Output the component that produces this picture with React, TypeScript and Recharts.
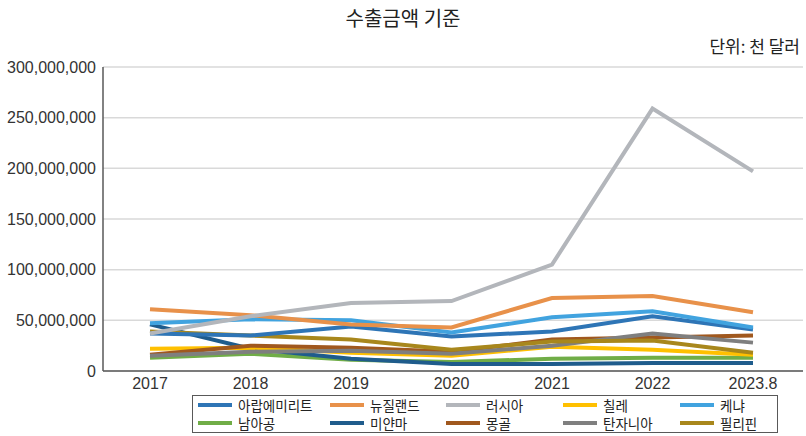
import React from 'react';
import { LineChart, Line, XAxis, YAxis, CartesianGrid } from 'recharts';

const years = ['2017', '2018', '2019', '2020', '2021', '2022', '2023.8'];

const uae = [37000000, 35000000, 44000000, 34000000, 39000000, 54000000, 41000000];
const newZealand = [61000000, 55000000, 46000000, 43000000, 72000000, 74000000, 58000000];
const russia = [37000000, 54000000, 67000000, 69000000, 105000000, 259000000, 197000000];
const chile = [22000000, 23000000, 18000000, 15000000, 24000000, 21000000, 16000000];
const kenya = [47000000, 51000000, 50000000, 38000000, 53000000, 59000000, 43000000];
const southAfrica = [13000000, 17000000, 11000000, 9000000, 12000000, 13000000, 13000000];
const myanmar = [46000000, 22000000, 12000000, 7000000, 7000000, 8000000, 8000000];
const mongolia = [16000000, 25000000, 23000000, 19000000, 31000000, 33000000, 35000000];
const tanzania = [15000000, 19000000, 20000000, 17000000, 25000000, 37000000, 28000000];
const philippines = [39000000, 35000000, 31000000, 21000000, 29000000, 30000000, 18000000];

const yTicks = [0, 50000000, 100000000, 150000000, 200000000, 250000000, 300000000];

const series = [
  { key: 'uae', name: '아랍에미리트', color: '#2E75B6', values: uae },
  { key: 'nz', name: '뉴질랜드', color: '#E8914A', values: newZealand },
  { key: 'ru', name: '러시아', color: '#B3B6BB', values: russia },
  { key: 'cl', name: '칠레', color: '#FFC000', values: chile },
  { key: 'ke', name: '케냐', color: '#41A3DF', values: kenya },
  { key: 'za', name: '남아공', color: '#70AD47', values: southAfrica },
  { key: 'mm', name: '미얀마', color: '#1F5C8C', values: myanmar },
  { key: 'mn', name: '몽골', color: '#A0581E', values: mongolia },
  { key: 'tz', name: '탄자니아', color: '#7F7F7F', values: tanzania },
  { key: 'ph', name: '필리핀', color: '#A8871C', values: philippines },
];

const data = years.map((y, i) => {
  const row: Record<string, string | number> = { year: y };
  series.forEach((s) => {
    row[s.key] = s.values[i];
  });
  return row;
});

const font = "'Liberation Sans', 'Noto Sans CJK KR', Arial, sans-serif";
const krFont = "'Noto Sans CJK KR', 'Liberation Sans', sans-serif";

export default function App() {
  const drawOrder = ['za', 'mm', 'cl', 'mn', 'tz', 'ph', 'uae', 'ke', 'nz', 'ru'];
  return (
    <div style={{ position: 'absolute', left: 0, top: 0, width: 806, height: 436, background: '#fff', fontFamily: font }}>
      <div
        style={{
          position: 'absolute',
          left: 0,
          width: 806,
          top: 4,
          textAlign: 'center',
          fontSize: 20,
          fontFamily: krFont,
          color: '#222',
          lineHeight: '28px',
        }}
      >
        수출금액 기준
      </div>
      <div
        style={{
          position: 'absolute',
          right: 6,
          top: 33,
          fontSize: 17,
          fontFamily: krFont,
          color: '#222',
          lineHeight: '26px',
        }}
      >
        단위: 천 달러
      </div>
      <LineChart
        width={806}
        height={436}
        data={data}
        margin={{ top: 67, right: 3, bottom: 35, left: 0 }}
      >
        <CartesianGrid vertical={false} stroke="#D9D9D9" strokeWidth={1.5} />
        <XAxis
          dataKey="year"
          height={30}
          padding={{ left: 47, right: 50 }}
          tickLine={false}
          axisLine={{ stroke: '#595959', strokeWidth: 1.5 }}
          tick={{ fill: '#333', fontSize: 16, fontFamily: font }}
          tickMargin={1}
          interval={0}
        />
        <YAxis
          width={103}
          domain={[0, 300000000]}
          ticks={yTicks}
          tickLine={false}
          axisLine={{ stroke: '#595959', strokeWidth: 1.5 }}
          tick={{ fill: '#333', fontSize: 16, fontFamily: font }}
          tickMargin={1}
          tickFormatter={(v: number) => v.toLocaleString('en-US')}
        />
        {drawOrder.map((k) => {
          const s = series.find((x) => x.key === k)!;
          return (
            <Line
              key={s.key}
              type="linear"
              dataKey={s.key}
              name={s.name}
              stroke={s.color}
              strokeWidth={4}
              dot={false}
              activeDot={false}
              isAnimationActive={false}
            />
          );
        })}
      </LineChart>
      <div
        style={{
          position: 'absolute',
          left: 192,
          top: 395,
          width: 586,
          height: 38,
          boxSizing: 'border-box',
          border: '1px solid #595959',
          display: 'grid',
          gridTemplateColumns: '132px 116px 117px 117px 97px',
          gridTemplateRows: '18px 18px',
          paddingLeft: 5,
          paddingTop: 0,
          fontFamily: krFont,
          fontSize: 13.5,
          color: '#222',
        }}
      >
        {series.map((s) => (
          <div key={s.key} style={{ display: 'flex', alignItems: 'center', height: 18, whiteSpace: 'nowrap', overflow: 'visible' }}>
            <span style={{ display: 'inline-block', flexShrink: 0, width: 34, height: 4, background: s.color, marginRight: 6 }} />
            <span style={{ lineHeight: '16px', fontSize: 13.5, whiteSpace: 'nowrap' }}>{s.name}</span>
          </div>
        ))}
      </div>
    </div>
  );
}
